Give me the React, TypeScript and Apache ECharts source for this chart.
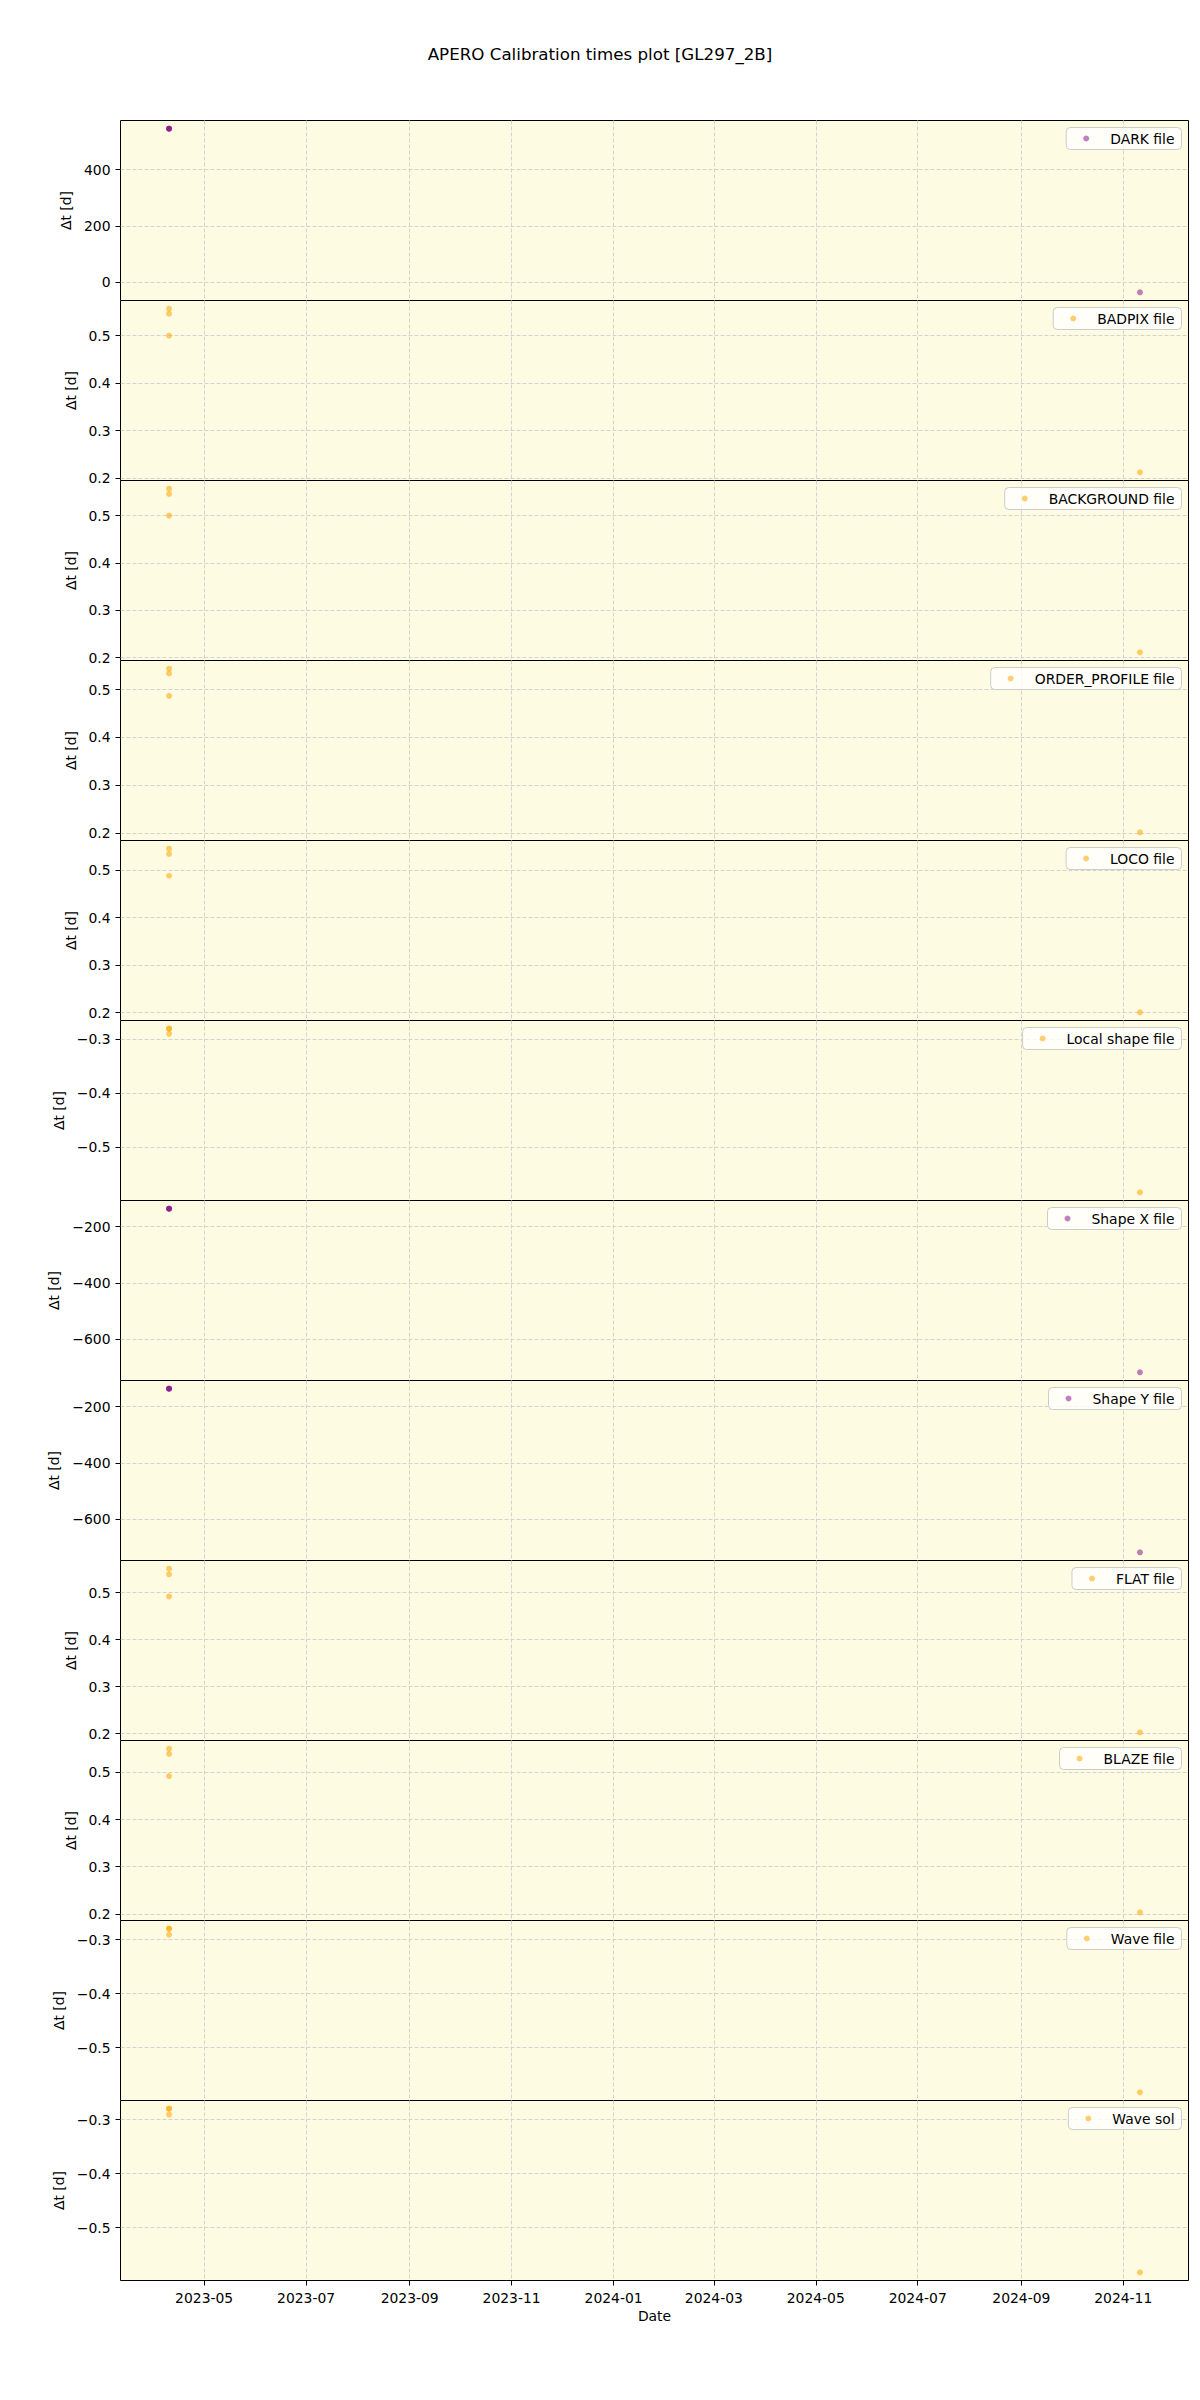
import React, { useEffect, useRef } from "react";
import * as echarts from "echarts";

const TITLE = "APERO Calibration times plot [GL297_2B]";
const Y_NAME = "Δt [d]";
const X_NAME = "Date";
const FONT = "DejaVu Sans";

const xTickLabels = [
  "2023-05", "2023-07", "2023-09", "2023-11", "2024-01",
  "2024-03", "2024-05", "2024-07", "2024-09", "2024-11",
];

// tick label sets
const darkTicks = [0, 200, 400];
const fracTicks = [0.2, 0.3, 0.4, 0.5];
const negFracTicks = [-0.5, -0.4, -0.3];
const shapeTicks = [-600, -400, -200];

// dates of the calibration points (same in every panel)
const calibDates4 = ["2023-04-10", "2023-04-10", "2023-04-10", "2024-11-11"];

// values (Δt in days)
const darkValues = [545, 545, 545, -35];
const badpixValues = [0.557, 0.5465, 0.5, 0.212];
const backgroundValues = [0.557, 0.546, 0.5, 0.211];
const orderProfileValues = [0.544, 0.534, 0.487, 0.201];
const locoValues = [0.545, 0.534, 0.488, 0.2006];
const localShapeValues = [-0.2804, -0.2804, -0.29, -0.5839];
const shapeXValues = [-136, -136, -136, -717];
const shapeYValues = [-136, -136, -136, -717];
const flatValues = [0.551, 0.539, 0.492, 0.203];
const blazeValues = [0.55, 0.539, 0.492, 0.2035];
const waveFileValues = [-0.2796, -0.2796, -0.2906, -0.5827];
const waveSolValues = [-0.2796, -0.2796, -0.2906, -0.5827];

const PURPLE = "rgba(128,0,128,0.62)";
const ORANGE = "rgba(255,165,0,0.68)";

const panels = [
  { name: "DARK file", values: darkValues, color: PURPLE, ticks: darkTicks, dec: 0, gap: 39 },
  { name: "BADPIX file", values: badpixValues, color: ORANGE, ticks: fracTicks, dec: 1, gap: 37 },
  { name: "BACKGROUND file", values: backgroundValues, color: ORANGE, ticks: fracTicks, dec: 1, gap: 37 },
  { name: "ORDER_PROFILE file", values: orderProfileValues, color: ORANGE, ticks: fracTicks, dec: 1, gap: 37 },
  { name: "LOCO file", values: locoValues, color: ORANGE, ticks: fracTicks, dec: 1, gap: 37 },
  { name: "Local shape file", values: localShapeValues, color: ORANGE, ticks: negFracTicks, dec: 1, gap: 47 },
  { name: "Shape X file", values: shapeXValues, color: PURPLE, ticks: shapeTicks, dec: 0, gap: 51 },
  { name: "Shape Y file", values: shapeYValues, color: PURPLE, ticks: shapeTicks, dec: 0, gap: 51 },
  { name: "FLAT file", values: flatValues, color: ORANGE, ticks: fracTicks, dec: 1, gap: 37 },
  { name: "BLAZE file", values: blazeValues, color: ORANGE, ticks: fracTicks, dec: 1, gap: 37 },
  { name: "Wave file", values: waveFileValues, color: ORANGE, ticks: negFracTicks, dec: 1, gap: 47 },
  { name: "Wave sol", values: waveSolValues, color: ORANGE, ticks: negFracTicks, dec: 1, gap: 47 },
];

function parseDay(s: string): number {
  const p = s.split("-").map(Number);
  return Date.UTC(p[0], p[1] - 1, p[2] || 1);
}

function fmtNum(v: number, dec: number): string {
  const s = Math.abs(v).toFixed(dec);
  return (v < 0 ? "\u2212" : "") + s;
}

const GRID_LEFT = 120.5;
const GRID_RIGHT = 11.5;
const TOP0 = 120.5;
const PANEL_H = 180;
const BG = "#fdfbe1";
const GRID_LINE = { show: true, lineStyle: { color: "#d3d3d0", width: 1, type: [4, 2] as any } };

function buildOption() {
  const dates = calibDates4.map(parseDay);
  const dMin = Math.min(...dates);
  const dMax = Math.max(...dates);
  const span = dMax - dMin;
  const xMin = dMin - 0.05 * span;
  const xMax = dMax + 0.05 * span;
  const xTickVals = xTickLabels.map(parseDay);
  const labelFor = (v: number) => {
    let best = 0;
    let bd = Infinity;
    xTickVals.forEach((t, i) => {
      const d = Math.abs(t - v);
      if (d < bd) {
        bd = d;
        best = i;
      }
    });
    return xTickLabels[best];
  };

  const n = panels.length;
  const grid: any[] = [];
  const xAxis: any[] = [];
  const yAxis: any[] = [];
  const series: any[] = [];
  const legend: any[] = [];

  panels.forEach((p, i) => {
    const top = TOP0 + i * PANEL_H;
    const isLast = i === n - 1;
    const vMin = Math.min(...p.values);
    const vMax = Math.max(...p.values);
    const r = vMax - vMin;
    grid.push({
      left: GRID_LEFT,
      right: GRID_RIGHT,
      top,
      height: PANEL_H,
      show: true,
      backgroundColor: BG,
      borderColor: "#000",
      borderWidth: 1,
    });
    xAxis.push({
      type: "value",
      gridIndex: i,
      min: xMin,
      max: xMax,
      axisLine: { show: false },
      axisTick: {
        show: isLast,
        customValues: xTickVals,
        length: 5,
        lineStyle: { color: "#000", width: 1 },
      },
      axisLabel: {
        show: isLast,
        customValues: xTickVals,
        formatter: (v: number) => labelFor(v),
        fontSize: 13.9,
        fontFamily: FONT,
        color: "#000",
        margin: 10,
      },
      splitLine: GRID_LINE,
      name: isLast ? X_NAME : "",
      nameLocation: "middle",
      nameGap: 28,
      nameTextStyle: { fontSize: 13.9, fontFamily: FONT, color: "#000" },
    });
    yAxis.push({
      type: "value",
      gridIndex: i,
      min: vMin - 0.05 * r,
      max: vMax + 0.05 * r,
      axisLine: { show: false },
      axisTick: {
        show: true,
        customValues: p.ticks,
        length: 5,
        lineStyle: { color: "#000", width: 1 },
      },
      axisLabel: {
        customValues: p.ticks,
        formatter: (v: number) => fmtNum(v, p.dec),
        fontSize: 13.9,
        fontFamily: FONT,
        color: "#000",
        margin: 10,
      },
      splitLine: GRID_LINE,
      name: Y_NAME,
      nameLocation: "middle",
      nameGap: p.gap,
      nameTextStyle: { fontSize: 13.9, fontFamily: FONT, color: "#000" },
    });
    series.push({
      type: "scatter",
      name: p.name,
      xAxisIndex: i,
      yAxisIndex: i,
      symbol: "circle",
      symbolSize: 6,
      itemStyle: { color: p.color },
      data: dates.map((d, k) => [d, p.values[k]]),
    });
    legend.push({
      data: [p.name],
      right: 18.5,
      top: top + 7,
      orient: "horizontal",
      icon: "circle",
      itemWidth: 6,
      itemHeight: 6,
      backgroundColor: "rgba(255,255,255,0.8)",
      borderColor: "#cccccc",
      borderWidth: 1,
      borderRadius: 4,
      padding: [4, 7, 4, 17],
      selectedMode: false,
      textStyle: {
        fontSize: 13.9,
        fontFamily: FONT,
        color: "#000",
        padding: [0, 0, 0, 16],
      },
    });
  });

  return {
    animation: false,
    backgroundColor: "#ffffff",
    title: {
      text: TITLE,
      left: "center",
      top: 45,
      padding: 0,
      textStyle: { fontSize: 16.7, fontWeight: "normal", fontFamily: FONT, color: "#000" },
    },
    grid,
    xAxis,
    yAxis,
    series,
    legend,
  };
}

export default function App() {
  const ref = useRef<HTMLDivElement>(null);
  useEffect(() => {
    if (!ref.current) return;
    const chart = echarts.init(ref.current, undefined, { renderer: "svg" });
    chart.setOption(buildOption() as any);
    return () => chart.dispose();
  }, []);
  return (
    <div
      ref={ref}
      style={{ position: "absolute", left: 0, top: 0, width: 1200, height: 2400 }}
    />
  );
}
